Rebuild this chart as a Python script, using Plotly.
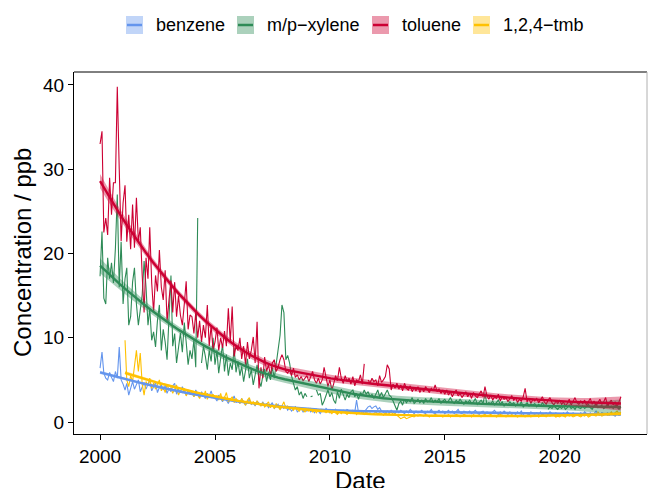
import numpy as np
import pandas as pd
import plotly.graph_objects as go

nan = float("nan")

species = ["benzene", "m/p\u2212xylene", "toluene", "1,2,4\u2212tmb"]
colors = ["#6495ED", "#2E8B57", "#CC0033", "#FFC100"]

dates = pd.date_range("2000-01-01", periods=273, freq="MS")

benzene = [
    6.4, 8.3, 5.8, 5.2, 5.0, 5.9, 5.3, 4.8, 6.0, 5.2, 8.9, 5.0,
    4.5, 3.8, 4.6, 3.2, 4.0, 4.8, 3.9, 4.4, 5.0, 3.6, 4.2, 4.7,
    3.9, 4.5, 5.0, 3.7, 4.2, 4.7, 3.5, 4.1, 4.4, 3.8, 4.3, 3.4,
    4.0, 3.6, 4.3, 4.6, 3.3, 3.9, 3.5, 4.2, 3.7, 3.2, 3.8, 3.4,
    3.5, 3.0, 3.8, 3.3, 2.9, 3.6, 3.2, 2.8, 3.4, 3.1, 3.7, 2.9,
    2.9, 2.5, 3.2, 2.7, 2.4, 3.0, 2.6, 2.2, 2.8, 2.5, 3.1, 2.3,
    2.6, 2.2, 2.8, 2.4, 2.0, 2.5, 2.7, 2.1, 2.3, 1.9, 2.5, 2.2,
    2.0, 2.4, 1.8, 2.2, 1.7, 2.0, 2.3, 1.6, 1.9, 2.1, 1.5, 1.8,
    1.6, 1.9, 1.4, 1.7, 1.3, 1.5, 1.8, 1.2, 1.4, 1.6, 1.2, 1.5,
    1.3, 1.6, 1.2, 1.4, 1.1, 1.5, 1.3, 1.0, 1.4, 1.2, 1.6, 1.3,
    1.1, 1.4, 1.2, 1.5, 1.0, 1.3, 1.1, 1.4, 1.2, 1.5, 1.3, 1.2,
    1.4, 1.2, 2.6, 1.1, 1.3, 1.0, 1.2, 1.5, 1.8, 1.9, 1.6, 1.8,
    1.9, 1.5, 1.7, 1.3, 1.2, 1.0, 1.3, 1.1, 1.4, 1.2, 1.0, 1.3,
    1.1, 1.4, 1.2, 1.0, 1.3, 1.1, 1.5, 1.2, 1.0, 1.3, 1.1, 1.2,
    1.4, 1.1, 1.0, 1.3, 1.2, 1.5, 1.1, 1.0, 1.2, 1.4, 1.1, 1.3,
    1.0, 1.2, 1.4, 1.1, 1.3, 1.0, 1.2, 1.5, 1.1, 1.0, 1.3, 1.2,
    1.1, 1.3, 1.0, 1.2, 1.4, 1.1, 0.9, 1.2, 1.3, 1.0, 1.2, 1.1,
    1.0, 1.2, 1.4, 1.1, 0.9, 1.2, 1.0, 1.3, 1.1, 0.9, 1.2, 1.0,
    1.1, 0.9, 1.2, 1.0, 1.3, 0.9, 1.1, 1.0, 0.8, 1.2, 1.0, 0.9,
    1.1, 0.9, 1.2, 0.8, 1.0, 1.1, 0.9, 1.2, 1.0, 0.8, 1.1, 0.9,
    1.0, 0.8, 1.1, 0.9, 1.2, 1.0, 0.8, 1.1, 0.9, 1.0, 0.8, 1.1,
    0.9, 1.2, 1.0, 0.8, 1.1, 0.9, 1.0, 1.3, 0.9, 0.8, 1.1, 1.0,
    0.9, 1.1, 0.8, 1.0, 0.9, 0.7, 1.0, 0.8, 0.9,
]

xylene = [
    17.3, 22.6, 14.7, 14.0, 19.5, 17.0, 18.9, 16.5, 20.6, 27.0, 16.0, 21.4,
    14.0, 17.0, 18.3, 11.5, 12.5, 16.6, 18.3, 14.0, 11.5, 13.0, 15.1, 19.1,
    16.0, 11.5, 13.5, 9.7, 10.7, 8.9, 12.0, 13.9, 8.5, 11.0, 9.5, 7.4,
    13.0, 17.4, 9.0, 10.5, 7.0, 9.0, 10.6, 8.3, 11.8, 9.5, 6.8, 8.5,
    7.5, 9.8, 6.5, 24.2, nan, 7.0, 9.0, 7.8, 6.2, 8.5, 7.2, 10.0,
    6.8, 8.5, 5.8, 7.6, 9.2, 6.0, 8.0, 5.5, 7.0, 6.2, 8.8, 5.9,
    7.2, 5.5, 6.6, 4.8, 6.0, 7.5, 5.2, 6.2, 4.4, 5.8, 6.8, 5.0,
    4.2, 5.5, 6.3, 4.8, 5.9, 5.0, 6.5, 5.2, 7.0, 8.5, 10.3, 13.9,
    13.0, 7.4, 7.9, 7.0, 5.5, 4.6, 3.8, 4.2, 3.2, 3.6, 2.8, 3.4,
    3.0, nan, 3.0, 3.1, nan, 3.8, 3.2, 3.4, 2.0, 2.5, 3.3, 3.8,
    3.0, 3.5, 2.6, 2.2, 3.6, 2.8, 3.9, 3.2, 2.6, 3.3, 2.9, 3.6,
    3.8, 3.0, 3.4, 2.7, 3.5, 3.2, 3.8, 3.3, 3.6, 3.0, 3.3, 2.8,
    3.4, 3.8, 3.0, 3.5, 2.9, 3.3, 3.8, 3.2, 3.0, 2.5, 2.0, 1.4,
    2.2, 2.5, 2.0, 2.7, 2.3, 2.6, 2.4, 2.9, 2.2, 2.5, 2.7, 2.3,
    2.6, 2.2, 2.8, 2.4, 2.5, 2.9, 2.3, 2.6, 2.4, 2.8, 2.2, 2.5,
    2.7, 2.3, 2.5, 2.9, 2.4, 2.2, 2.6, 2.3, 2.7, 2.4, 2.1, 2.5,
    2.3, 2.6, 2.2, 2.4, 2.8, 2.1, 2.4, 2.6, 2.2, 3.4, 2.1, 2.3,
    2.2, 2.5, 2.0, 2.3, 2.6, 2.1, 2.4, 1.9, 2.2, 2.0, 2.4, 2.1,
    2.3, 1.9, 2.2, 2.0, 2.4, 1.8, 2.1, 2.3, 1.9, 2.1, 2.0, 2.2,
    1.8, 2.1, 1.9, 2.3, 2.0, nan, 1.5, 1.8, 1.6, 1.9, 1.7, 1.5,
    1.8, 1.6, 1.9, 1.5, 1.7, 2.0, 1.6, 1.8, 1.5, 1.9, 1.7, 1.6,
    1.9, 1.6, 1.8, 2.1, 1.7, 1.5, 1.9, 2.2, 1.7, 1.8, 2.0, 1.6,
    1.8, 2.2, 1.7, 1.9, 1.6, 2.0, 1.7, 1.5, 1.8,
]

toluene = [
    33.0, 34.5, 22.5, 24.2, 22.2, 29.0, 24.6, 28.4, 28.4, 39.8, 30.0, 21.5,
    26.0, 28.1, 21.4, 24.6, 20.5, 25.8, 20.7, 26.6, 21.4, 23.1, 17.4, 13.0,
    19.5, 17.0, 23.1, 16.5, 13.0, 17.4, 15.5, 20.4, 16.0, 14.5, 18.0, 11.9,
    14.5, 16.8, 13.0, 16.6, 12.5, 15.0, 12.7, 11.5, 14.0, 16.7, 11.0, 12.7,
    12.5, 10.5, 13.0, 10.0, 12.0, 9.5, 11.5, 10.0, 13.9, 9.0, 11.5, 8.5,
    9.5, 11.2, 8.5, 10.0, 8.8, 10.8, 9.0, 13.5, 9.5, 13.7, 7.8, 9.0,
    8.5, 10.0, 7.5, 9.0, 6.8, 9.5, 7.5, 8.5, 10.1, 7.0, 11.9, 4.0,
    6.5, 5.2, 7.7, 6.0, 6.8, 5.5, 7.0, 7.4, 6.0, 6.5, 7.4, 8.0,
    7.4, 6.0, 5.8, 6.2, 5.5, 6.4, 5.3, 5.6, 5.0, 5.4, 4.9, 5.2,
    5.5, 4.8, 5.3, 6.0, 5.0, 4.6, 5.2, 4.5, 5.0, 6.5, 5.3, 4.2,
    5.0, 3.8, 4.5, 5.5, 4.9, 6.5, 5.2, 4.6, 5.5, 4.8, 5.2, 4.5,
    5.4, 4.3, 5.0, 4.8, 5.6, 4.5, 6.9, nan, 5.0, 4.6, 5.2, 4.8,
    5.0, 4.3, 5.5, 4.7, 5.0, 5.4, 6.8, 6.3, 3.8, 4.5, 4.0, 4.6,
    3.9, 4.4, 3.7, 4.6, 4.0, 3.8, 4.3, 3.6, 4.1, 3.7, 4.2, 3.5,
    4.0, 3.6, 4.2, 3.8, 3.5, 4.0, 3.7, 4.4, 3.6, 3.9, 3.4, 3.8,
    3.3, 3.8, 3.2, 3.6, 3.0, 3.5, 3.8, 3.1, 3.4, 2.9, 3.3, 3.6,
    3.0, 3.4, 2.8, 3.5, 3.1, 2.9, 3.3, 3.7, 3.0, 4.2, 3.1, 2.7,
    3.2, 2.6, 3.0, 2.8, 3.3, 2.5, 3.0, 2.7, 2.9, 2.4, 2.8, 3.1,
    2.6, 2.9, 2.3, 2.7, 2.5, 3.0, 4.0, 2.4, 2.8, 2.2, 2.7, 2.5,
    2.8, 2.3, 2.6, 3.0, 2.4, 2.1, 2.6, 2.9, 2.3, 2.0, 2.5, 2.2,
    2.6, 2.1, 2.4, 1.9, 2.2, 2.7, 2.0, 2.4, 2.9, 2.3, 2.1, 2.5,
    2.2, 2.6, 2.0, 2.4, 2.8, 2.1, 2.5, 1.9, 2.3, 2.7, 2.1, 2.4,
    2.9, 1.9, 2.3, 2.6, 2.0, 2.4, 1.8, 2.3, 3.0,
]

tmb = [
    nan, nan, nan, nan, nan, nan, nan, nan, nan, nan, nan, nan,
    nan, 9.7, 5.0, 4.2, 5.5, 4.8, 7.0, 8.5, 6.0, 8.2, 4.5, 3.2,
    4.8, 4.3, 5.2, 4.0, 4.6, 3.9, 4.4, 5.0, 3.7, 4.2, 3.5, 4.5,
    3.8, 4.1, 3.4, 3.9, 4.4, 3.2, 3.7, 3.5, 4.0, 3.1, 3.6, 3.3,
    3.6, 3.0, 3.5, 3.2, 2.8, 3.4, 3.0, 3.7, 2.7, 3.2, 2.9, 3.3,
    2.8, 3.1, 2.6, 3.4, 2.5, 2.9, 3.5, 2.4, 2.7, 3.0, 2.3, 2.8,
    2.5, 2.2, 2.8, 2.4, 2.0, 2.6, 2.9, 2.1, 2.4, 2.0, 2.5, 2.2,
    1.9, 2.3, 1.8, 2.1, 2.4, 1.7, 2.0, 1.6, 2.2, 1.8, 1.5, 1.9,
    2.4, 1.6, 1.9, 1.5, 1.7, 1.4, 1.8, 1.5, 1.3, 1.6, 1.4, 1.2,
    1.5, 1.3, 1.6, 1.2, 1.4, 1.1, 1.5, 1.3, 1.2, 1.4, 1.1, 1.3,
    1.2, 1.0, 1.3, 1.1, 0.9, 1.2, 1.0, 1.3, 1.1, 0.9, 1.2, 1.0,
    1.1, 1.3, 0.9, 1.2, 1.0, 1.1, 0.9, 1.2, 1.0, 1.1, 0.9, 1.0,
    1.2, 0.9, 1.1, 1.0, 0.8, 1.1, 0.9, 1.0, 1.2, 0.9, 1.0, 0.8,
    0.5, 0.4, 0.5, 0.6, 0.4, 0.5, 0.6, 0.7, 0.6, 0.8, 0.7, 0.9,
    0.8, 0.7, 0.9, 0.8, 0.6, 0.8, 0.7, 0.9, 0.8, 0.7, 0.8, 0.6,
    0.8, 0.7, 0.9, 0.6, 0.8, 0.7, 0.9, 0.8, 0.6, 0.7, 0.9, 0.8,
    0.7, 0.8, 0.6, 0.9, 0.7, 0.8, 0.7, 0.6, 0.8, 0.9, 0.7, 0.8,
    0.9, 0.7, 0.8, 0.6, 0.7, 0.9, 0.8, 0.7, 0.6, 0.8, 0.7, 0.9,
    0.7, 0.8, 0.6, 0.7, 0.9, 0.7, 0.6, 0.8, 0.7, 0.6, 0.8, 0.7,
    0.8, 0.6, 0.7, 0.9, 0.7, 0.6, 0.8, 0.7, 1.0, 0.8, 0.6, 0.7,
    0.6, 0.8, 0.7, 0.6, 0.9, 0.7, 0.8, 0.6, 0.7, 0.9, 0.7, 0.6,
    0.8, 0.7, 0.9, 0.6, 0.7, 1.0, 0.8, 0.7, 1.2, 0.9, 0.7, 0.8,
    1.0, 0.8, 0.9, 1.2, 0.9, 1.1, 1.3, 1.0, 1.2,
]

series = [benzene, xylene, toluene, tmb]

y_ticks = [0, 10, 20, 30, 40]
x_tick_years = [2000, 2005, 2010, 2015, 2020]

FONT = "Liberation Sans, Arial, sans-serif"
W, H = 648, 488
L, R, T, B = 74, 647, 72, 434


def rgba(hexc, a):
    h = hexc.lstrip("#")
    return "rgba(%d,%d,%d,%.2f)" % (int(h[0:2], 16), int(h[2:4], 16), int(h[4:6], 16), a)


def to_dec(d):
    return (np.asarray(d, dtype="datetime64[D]").astype(float)) / 365.25


def from_dec(v):
    return pd.Timestamp("1970-01-01") + pd.to_timedelta(np.asarray(v) * 365.25, unit="D")


def loess(x, y, xg, span=0.75):
    n = len(x)
    q = int(np.floor(n * span))

    def rows(x0s):
        out = []
        for x0 in x0s:
            d = np.abs(x - x0)
            h = np.sort(d)[q - 1]
            w = np.clip(1 - (d / h) ** 3, 0, None) ** 3
            X = np.column_stack([np.ones(n), x - x0, (x - x0) ** 2])
            XtW = X.T * w
            out.append(np.linalg.solve(XtW @ X, XtW)[0])
        return np.array(out)

    Ld = rows(x)
    res = y - Ld @ y
    d1 = n - 2 * np.trace(Ld) + np.sum(Ld * Ld)
    sigma = np.sqrt(np.sum(res ** 2) / d1)
    Lg = rows(xg)
    fit = Lg @ y
    se = sigma * np.sqrt(np.sum(Lg ** 2, axis=1))
    return fit, se


fig = go.Figure()

# raw monthly lines
for name, vals, col in zip(species, series, colors):
    fig.add_trace(go.Scatter(x=dates, y=vals, mode="lines", name=name,
                             line=dict(color=col, width=1.1), showlegend=False,
                             hoverinfo="skip"))

# smooths with confidence ribbons
for name, vals, col in zip(species, series, colors):
    v = np.array(vals, dtype=float)
    ok = ~np.isnan(v)
    xd = to_dec(dates.values[ok])
    yv = v[ok]
    xg = np.linspace(xd.min(), xd.max(), 80)
    fit, se = loess(xd, yv, xg)
    lo, hi = fit - 1.97 * se, fit + 1.97 * se
    gd = from_dec(xg)
    fig.add_trace(go.Scatter(x=list(gd) + list(gd[::-1]), y=list(hi) + list(lo[::-1]),
                             fill="toself", fillcolor=rgba(col, 0.4), line=dict(width=0),
                             mode="lines", showlegend=False, hoverinfo="skip"))
    fig.add_trace(go.Scatter(x=gd, y=fit, mode="lines", line=dict(color=col, width=2.4),
                             showlegend=False, hoverinfo="skip"))


def px(xp):
    return (xp - L) / (R - L)


def py(yp):
    return (B - yp) / (B - T)


shapes = []
annotations = []
key_x = [126, 237, 372, 473]
for kx, name, col in zip(key_x, species, colors):
    shapes.append(dict(type="rect", xref="paper", yref="paper",
                       x0=px(kx), x1=px(kx + 17), y0=py(34), y1=py(16),
                       fillcolor=rgba(col, 0.4), line=dict(width=0)))
    shapes.append(dict(type="line", xref="paper", yref="paper",
                       x0=px(kx + 1), x1=px(kx + 16), y0=py(25), y1=py(25),
                       line=dict(color=col, width=2.5)))
    annotations.append(dict(text=name, xref="paper", yref="paper", x=px(kx + 28), y=py(25),
                            xanchor="left", yanchor="middle", showarrow=False,
                            font=dict(family=FONT, size=18, color="black")))

# panel border: top (black) and right (grey)
shapes.append(dict(type="line", xref="paper", yref="paper", x0=0, x1=1, y0=1, y1=1,
                   line=dict(color="black", width=1)))
shapes.append(dict(type="line", xref="paper", yref="paper", x0=1, x1=1, y0=0, y1=1,
                   line=dict(color="#b0b0b0", width=1)))

annotations.append(dict(text="Concentration / ppb", xref="paper", yref="paper",
                        x=px(22), y=py(253), textangle=-90, xanchor="center", yanchor="middle",
                        showarrow=False, font=dict(family=FONT, size=24, color="black")))
annotations.append(dict(text="Date", xref="paper", yref="paper",
                        x=px(360), y=py(465), xanchor="center", yanchor="top",
                        showarrow=False, font=dict(family=FONT, size=24, color="black")))

x0 = pd.Timestamp("2000-01-01") - pd.Timedelta(days=414)
x1 = pd.Timestamp("2022-09-01") + pd.Timedelta(days=414)

fig.update_layout(
    width=W, height=H,
    margin=dict(l=L, r=W - R, t=T, b=H - B, pad=0),
    paper_bgcolor="white", plot_bgcolor="white",
    showlegend=False,
    shapes=shapes, annotations=annotations,
    font=dict(family=FONT, color="black"),
    xaxis=dict(type="date", range=[x0, x1],
               tickvals=[pd.Timestamp("%d-01-01" % yr) for yr in x_tick_years],
               ticktext=[str(yr) for yr in x_tick_years],
               showgrid=False, zeroline=False, showline=True, linecolor="black", linewidth=1,
               ticks="outside", ticklen=5, tickcolor="black", tickwidth=1,
               tickfont=dict(family=FONT, size=19, color="black")),
    yaxis=dict(range=[-1.42, 41.54], tickvals=y_ticks, ticktext=[str(t) for t in y_ticks],
               showgrid=False, zeroline=False, showline=True, linecolor="black", linewidth=1,
               ticks="outside", ticklen=5, tickcolor="black", tickwidth=1,
               tickfont=dict(family=FONT, size=19, color="black")),
)

fig.write_html("out.html")
